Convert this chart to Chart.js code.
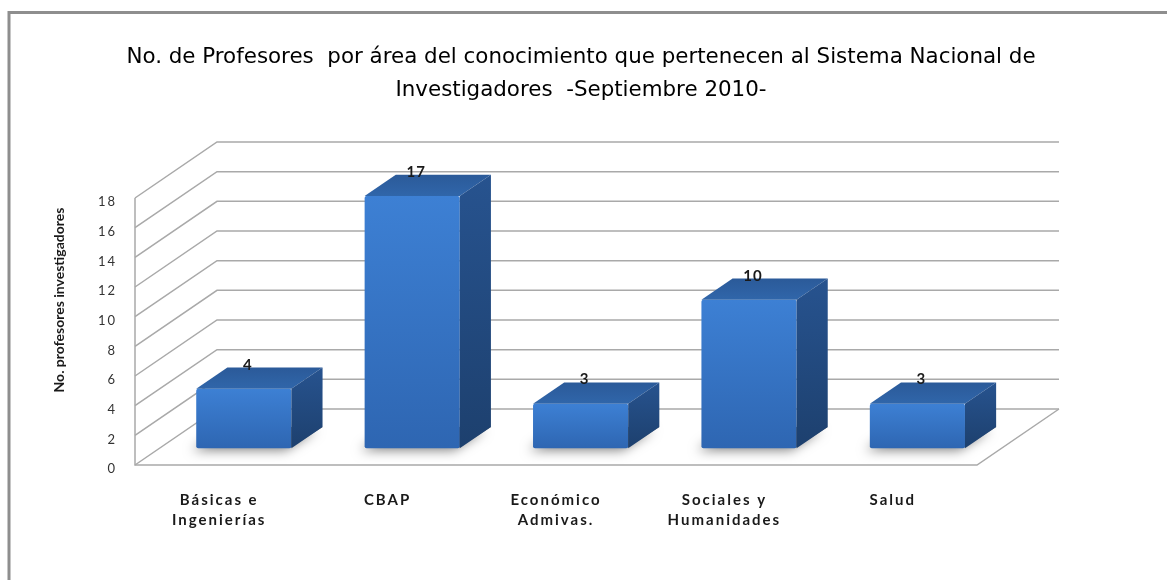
<!DOCTYPE html>
<html>
<head>
<meta charset="utf-8">
<script src="https://cdn.jsdelivr.net/npm/chart.js@4.4.0/dist/chart.umd.min.js"></script>
<style>
html,body{margin:0;padding:0;background:#fff;}
#wrap{width:1167px;height:580px;position:relative;}
</style>
</head>
<body>
<div id="wrap"><canvas id="c" width="1167" height="580"></canvas></div>
<script>
const titleLines = ['No. de Profesores  por área del conocimiento que pertenecen al Sistema Nacional de', 'Investigadores  -Septiembre 2010-'];
const yAxisTitle = 'No. profesores investigadores';
const categories = [['Básicas e', 'Ingenierías'], ['CBAP'], ['Económico', 'Admivas.'], ['Sociales y', 'Humanidades'], ['Salud']];
const profesores = [4, 17, 3, 10, 3];
const yTickValues = [0, 2, 4, 6, 8, 10, 12, 14, 16, 18];

// 3D geometry (oblique projection)
const DX = 82, DY = 56;          // total depth of the walls
const BAR_FRONT = 0.3;           // depth fraction of bar front face
const BAR_DEPTH = 0.38;          // depth fraction of bar thickness

Chart.defaults.font.family = 'Lato, "Liberation Sans", sans-serif';

function faceGrad(ctx, y0, y1, c0, c1) {
  if (!isFinite(y0) || !isFinite(y1) || y0 === y1) return c0;
  const g = ctx.createLinearGradient(0, y0, 0, y1);
  g.addColorStop(0, c0); g.addColorStop(1, c1);
  return g;
}

const plot3d = {
  id: 'plot3d',
  beforeUpdate(chart) { chart.ctx.letterSpacing = '2px'; },
  beforeDraw(chart) {
    const ctx = chart.ctx;
    ctx.letterSpacing = '2px';
    ctx.save();
    ctx.fillStyle = '#ffffff';
    ctx.fillRect(0, 0, chart.width, chart.height);
    ctx.strokeStyle = '#8e8e8e';
    ctx.lineWidth = 3;
    ctx.beginPath();
    ctx.moveTo(9, chart.height);
    ctx.lineTo(9, 12.5);
    ctx.lineTo(chart.width, 12.5);
    ctx.stroke();
    // chart title
    ctx.letterSpacing = '0px';
    ctx.fillStyle = '#000';
    ctx.font = '21.4px "DejaVu Sans", sans-serif';
    ctx.textAlign = 'center';
    ctx.textBaseline = 'alphabetic';
    ctx.fillText(titleLines[0], 581, 63);
    ctx.fillText(titleLines[1], 581, 96);
    ctx.restore();
  },
  beforeDatasetsDraw(chart) {
    const ctx = chart.ctx, a = chart.chartArea, y = chart.scales.y;
    const L = a.left, R = a.right, B = y.getPixelForValue(0);
    ctx.save();
    ctx.strokeStyle = '#a9a9a9';
    ctx.lineWidth = 1.5;
    y.ticks.forEach(t => {
      const py = y.getPixelForValue(t.value);
      ctx.beginPath();
      ctx.moveTo(L, py);
      ctx.lineTo(L + DX, py - DY);
      ctx.lineTo(R + DX, py - DY);
      ctx.stroke();
    });
    ctx.beginPath();
    ctx.moveTo(L, y.getPixelForValue(y.max));
    ctx.lineTo(L, B);
    ctx.lineTo(R, B);
    ctx.lineTo(R + DX, B - DY);
    ctx.stroke();

    const meta = chart.getDatasetMeta(0);
    const sx = DX * BAR_FRONT, sy = DY * BAR_FRONT, bdx = DX * BAR_DEPTH, bdy = DY * BAR_DEPTH;
    meta.data.forEach(el => {
      const x1 = el.x - el.width / 2 + sx, x2 = el.x + el.width / 2 + sx, yb = el.base - sy;
      ctx.save();
      ctx.shadowColor = 'rgba(0,0,0,0.5)';
      ctx.shadowBlur = 12;
      ctx.shadowOffsetX = -6;
      ctx.shadowOffsetY = 3;
      ctx.fillStyle = '#666';
      ctx.beginPath();
      ctx.moveTo(x1 + 2, yb - 1);
      ctx.lineTo(x2, yb - 1);
      ctx.lineTo(x2 + bdx, yb - bdy);
      ctx.lineTo(x1 + bdx, yb - bdy);
      ctx.closePath();
      ctx.fill();
      ctx.restore();
    });
    ctx.restore();
    ctx.save();
    ctx.translate(sx, -sy);
  },
  afterDatasetsDraw(chart) {
    const ctx = chart.ctx;
    ctx.restore();
    const meta = chart.getDatasetMeta(0);
    const sx = DX * BAR_FRONT, sy = DY * BAR_FRONT, bdx = DX * BAR_DEPTH, bdy = DY * BAR_DEPTH;
    ctx.save();
    meta.data.forEach((el, i) => {
      const x1 = el.x - el.width / 2 + sx, x2 = el.x + el.width / 2 + sx;
      const yt = el.y - sy, yb = el.base - sy;
      // top face
      ctx.fillStyle = faceGrad(ctx, yt - bdy, yt, '#2b5a99', '#3066aa');
      ctx.beginPath();
      ctx.moveTo(x1, yt);
      ctx.lineTo(x2, yt);
      ctx.lineTo(x2 + bdx, yt - bdy);
      ctx.lineTo(x1 + bdx, yt - bdy);
      ctx.closePath();
      ctx.fill();
      // side face
      ctx.fillStyle = faceGrad(ctx, yt - bdy, yb, '#27538f', '#1d406e');
      ctx.beginPath();
      ctx.moveTo(x2, yt);
      ctx.lineTo(x2 + bdx, yt - bdy);
      ctx.lineTo(x2 + bdx, yb - bdy);
      ctx.lineTo(x2, yb);
      ctx.closePath();
      ctx.fill();
      // value label
      ctx.letterSpacing = '1px';
      ctx.fillStyle = '#1a1a1a';
      ctx.font = 'bold 15px Lato, sans-serif';
      ctx.textAlign = 'center';
      ctx.textBaseline = 'alphabetic';
      ctx.fillText(String(profesores[i]), (x1 + x2) / 2 + 4, yt - bdy + 2);
    });
    ctx.restore();
  },
  afterDraw(chart) {
    const ctx = chart.ctx;
    ctx.save();
    ctx.letterSpacing = '0px';
    ctx.translate(59, 300);
    ctx.rotate(-Math.PI / 2);
    ctx.fillStyle = '#1a1a1a';
    ctx.font = 'bold 14px Lato, sans-serif';
    ctx.textAlign = 'center';
    ctx.textBaseline = 'middle';
    ctx.fillText(yAxisTitle, 0, 0);
    ctx.restore();
  }
};

new Chart(document.getElementById('c'), {
  type: 'bar',
  data: {
    labels: categories,
    datasets: [{
      label: 'Profesores',
      data: profesores,
      clip: false,
      borderWidth: 0,
      borderRadius: 2,
      borderSkipped: false,
      categoryPercentage: 1,
      barPercentage: 0.565,
      backgroundColor: (c) => {
        const ch = c.chart, y = ch.scales && ch.scales.y;
        if (!y || typeof c.raw !== 'number') return '#3673c4';
        const top = y.getPixelForValue(c.raw), base = y.getPixelForValue(0);
        return faceGrad(ch.ctx, top, base, '#3d80d4', '#2e66b2');
      }
    }]
  },
  options: {
    responsive: false,
    animation: false,
    layout: { padding: { left: 0, right: 190, top: 198, bottom: 0 } },
    plugins: {
      legend: { display: false },
      tooltip: { enabled: false },
      title: { display: false }
    },
    scales: {
      x: {
        grid: { display: false, drawTicks: false },
        border: { display: false },
        ticks: {
          color: '#1a1a1a',
          font: { size: 15, weight: 'bold', lineHeight: 1.33 },
          padding: 25,
          maxRotation: 0,
          autoSkip: false
        },
        afterFit(s) { s.height = 115; }
      },
      y: {
        min: 0,
        max: 18,
        grid: { display: false, drawTicks: false },
        border: { display: false },
        ticks: {
          color: '#333',
          font: { size: 13 },
          padding: 18,
          labelOffset: 4
        },
        afterBuildTicks(s) { s.ticks = yTickValues.map(v => ({ value: v })); },
        afterFit(s) { s.width = 135; }
      }
    }
  },
  plugins: [plot3d]
});
</script>
</body>
</html>
